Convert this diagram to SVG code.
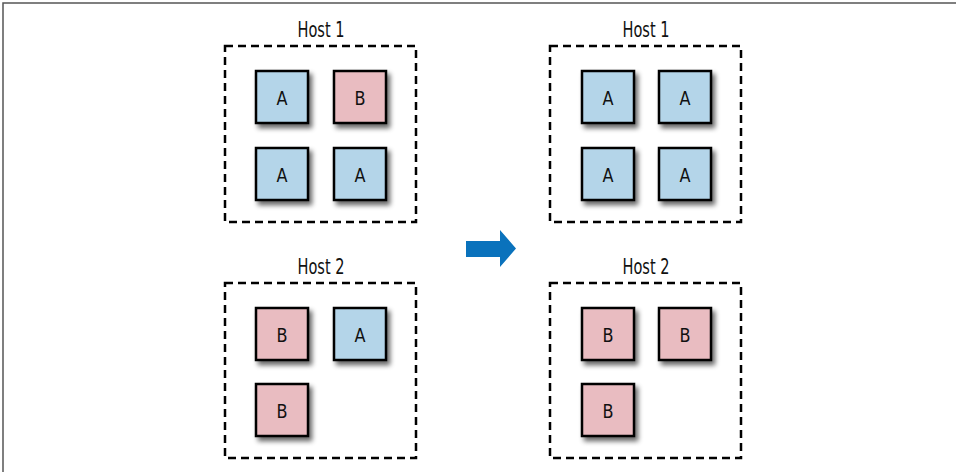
<svg xmlns="http://www.w3.org/2000/svg" width="956" height="472" viewBox="0 0 956 472">
<defs>
<filter id="sh" x="-30%" y="-30%" width="170%" height="170%">
<feGaussianBlur in="SourceAlpha" stdDeviation="2.5"/>
<feOffset dx="3" dy="4" result="b"/>
<feComponentTransfer><feFuncA type="linear" slope="0.6"/></feComponentTransfer>
<feMerge><feMergeNode/><feMergeNode in="SourceGraphic"/></feMerge>
</filter>
</defs>
<style>
.host{fill:none;stroke:#000;stroke-width:2.5;stroke-dasharray:8 5}
.lbl{font-family:"DejaVu Sans Condensed","Liberation Sans Narrow","Liberation Sans",sans-serif;font-stretch:condensed;fill:#111;text-anchor:middle}
.hl{font-size:21px}
.nl{font-size:20px}
.a{fill:#b4d5e9;stroke:#000;stroke-width:2.5}
.b{fill:#e9bcc1;stroke:#000;stroke-width:2.5}
</style>
<rect width="956" height="472" fill="#fff"/>
<path d="M3,472 V3 H956" fill="none" stroke="#555" stroke-width="1.5"/>

<g id="left-host1">
<rect class="host" x="225" y="46" width="191" height="176"/>
<text class="lbl hl" x="321" y="37" textLength="47" lengthAdjust="spacingAndGlyphs">Host 1</text>
<g filter="url(#sh)">
<rect class="a" x="256" y="71" width="52" height="52"/>
<rect class="b" x="334" y="71" width="52" height="52"/>
<rect class="a" x="256" y="148" width="52" height="52"/>
<rect class="a" x="334" y="148" width="52" height="52"/>
</g>
<text class="lbl nl" x="282" y="105" textLength="11" lengthAdjust="spacingAndGlyphs">A</text>
<text class="lbl nl" x="360" y="105" textLength="11" lengthAdjust="spacingAndGlyphs">B</text>
<text class="lbl nl" x="282" y="182" textLength="11" lengthAdjust="spacingAndGlyphs">A</text>
<text class="lbl nl" x="360" y="182" textLength="11" lengthAdjust="spacingAndGlyphs">A</text>
</g>

<g id="left-host2">
<rect class="host" x="225" y="283" width="191" height="175"/>
<text class="lbl hl" x="321" y="274" textLength="47" lengthAdjust="spacingAndGlyphs">Host 2</text>
<g filter="url(#sh)">
<rect class="b" x="256" y="308" width="52" height="52"/>
<rect class="a" x="334" y="308" width="52" height="52"/>
<rect class="b" x="256" y="384" width="52" height="52"/>
</g>
<text class="lbl nl" x="282" y="342" textLength="11" lengthAdjust="spacingAndGlyphs">B</text>
<text class="lbl nl" x="360" y="342" textLength="11" lengthAdjust="spacingAndGlyphs">A</text>
<text class="lbl nl" x="282" y="418" textLength="11" lengthAdjust="spacingAndGlyphs">B</text>
</g>

<g id="right-host1">
<rect class="host" x="550" y="46" width="191" height="176"/>
<text class="lbl hl" x="646" y="37" textLength="47" lengthAdjust="spacingAndGlyphs">Host 1</text>
<g filter="url(#sh)">
<rect class="a" x="582" y="71" width="52" height="52"/>
<rect class="a" x="659" y="71" width="52" height="52"/>
<rect class="a" x="582" y="148" width="52" height="52"/>
<rect class="a" x="659" y="148" width="52" height="52"/>
</g>
<text class="lbl nl" x="608" y="105" textLength="11" lengthAdjust="spacingAndGlyphs">A</text>
<text class="lbl nl" x="685" y="105" textLength="11" lengthAdjust="spacingAndGlyphs">A</text>
<text class="lbl nl" x="608" y="182" textLength="11" lengthAdjust="spacingAndGlyphs">A</text>
<text class="lbl nl" x="685" y="182" textLength="11" lengthAdjust="spacingAndGlyphs">A</text>
</g>

<g id="right-host2">
<rect class="host" x="550" y="283" width="191" height="175"/>
<text class="lbl hl" x="646" y="274" textLength="47" lengthAdjust="spacingAndGlyphs">Host 2</text>
<g filter="url(#sh)">
<rect class="b" x="582" y="308" width="52" height="52"/>
<rect class="b" x="659" y="308" width="52" height="52"/>
<rect class="b" x="582" y="384" width="52" height="52"/>
</g>
<text class="lbl nl" x="608" y="342" textLength="11" lengthAdjust="spacingAndGlyphs">B</text>
<text class="lbl nl" x="685" y="342" textLength="11" lengthAdjust="spacingAndGlyphs">B</text>
<text class="lbl nl" x="608" y="418" textLength="11" lengthAdjust="spacingAndGlyphs">B</text>
</g>

<g id="connectors">
<path d="M466,241 H500 V230 L516,248.5 L500,267 V257 H466 Z" fill="#0a72bc"/>
</g>
</svg>
